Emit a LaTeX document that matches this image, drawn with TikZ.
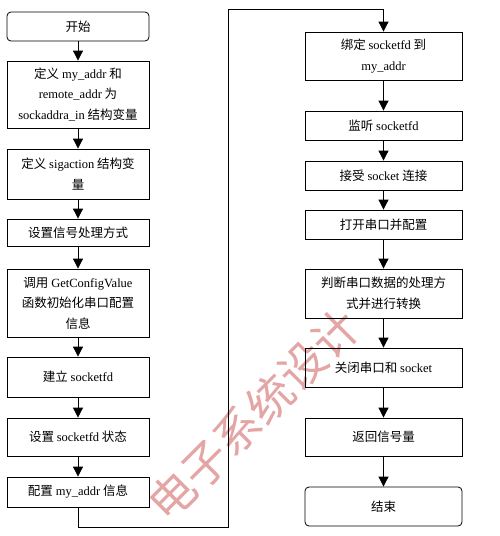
\documentclass[tikz,border=0pt]{standalone}
\usepackage{fontspec}
\setmainfont{Liberation Serif}
\newfontfamily\cjk{Noto Sans CJK SC}
\usepackage{tikz}
\usetikzlibrary{arrows.meta, positioning}
\definecolor{markpink}{RGB}{228,165,165}
\NewDocumentCommand{\en}{m}{{\rmfamily #1}}

\begin{document}
\begin{tikzpicture}[x=1pt,y=-1pt,>={Triangle[width=10pt,length=10pt]},
        box/.style={draw,line width=0.8pt,align=center,inner sep=2pt,
          font=\cjk\fontsize{12.5}{20.5}\selectfont},
        lbox/.style={box,minimum width=142pt},
        rbox/.style={box,minimum width=157pt},
        terminal/.style={rounded corners=4pt},
        watermark/.style={text=markpink,font=\cjk\fontsize{46}{46}\selectfont}]
      \useasboundingbox (0,0) rectangle (500,536);

      \node[watermark,rotate=45] (mark) at (254,415) {电子系统设计};

      % left column
      \node[lbox,terminal,minimum height=29pt] (start)   at (78,26.5) {开始};
      \node[lbox,minimum height=67pt] (defaddr) at (78,94.5)  {定义 \en{my\_addr} 和\\ \en{remote\_addr} 为\\ \en{sockaddra\_in} 结构变量};
      \node[lbox,minimum height=50pt] (defsig)  at (78,174)   {定义 \en{sigaction} 结构变\\ 量};
      \node[lbox,minimum height=27pt] (sigmode) at (78,232.5) {设置信号处理方式};
      \node[lbox,minimum height=68pt] (getcfg)  at (78,303)   {调用 \en{GetConfigValue}\\ 函数初始化串口配置\\ 信息};
      \node[lbox,minimum height=40pt] (mksock)  at (78,377)   {建立 \en{socketfd}};
      \node[lbox,minimum height=38pt] (sockst)  at (78,437)   {设置 \en{socketfd} 状态};
      \node[lbox,minimum height=30pt] (cfgaddr) at (78,492)   {配置 \en{my\_addr} 信息};

      % right column
      \node[rbox,minimum height=48pt] (bind)    at (383.5,56)    {绑定 \en{socketfd} 到\\ \en{my\_addr}};
      \node[rbox,minimum height=29pt] (listen)  at (383.5,125.5) {监听 \en{socketfd}};
      \node[rbox,minimum height=29pt] (accept)  at (383.5,175.5) {接受 \en{socket} 连接};
      \node[rbox,minimum height=29pt] (openser) at (383.5,224.5) {打开串口并配置};
      \node[rbox,minimum height=49pt] (convert) at (383.5,293.5) {判断串口数据的处理方\\ 式并进行转换};
      \node[rbox,minimum height=39pt] (close)   at (383.5,367.5) {关闭串口和 \en{socket}};
      \node[rbox,minimum height=38pt] (retsig)  at (383.5,437)   {返回信号量};
      \node[rbox,terminal,minimum height=39pt] (stop) at (383.5,506.5) {结束};

      \coordinate (turnlow)  at (228,527);
      \coordinate (turnhigh) at (228,9);

      \path[->,line width=0.8pt] (start) edge (defaddr)
        (defaddr) edge (defsig)
        (defsig)  edge (sigmode)
        (sigmode) edge (getcfg)
        (getcfg)  edge (mksock)
        (mksock)  edge (sockst)
        (sockst)  edge (cfgaddr);
      \draw[->,line width=0.8pt] (cfgaddr.south) |- (turnlow) -- (turnhigh) -| (bind.north);
      \path[->,line width=0.8pt] (bind) edge (listen)
        (listen)  edge (accept)
        (accept)  edge (openser)
        (openser) edge (convert)
        (convert) edge (close)
        (close)   edge (retsig)
        (retsig)  edge (stop);
    \end{tikzpicture}
\end{document}
